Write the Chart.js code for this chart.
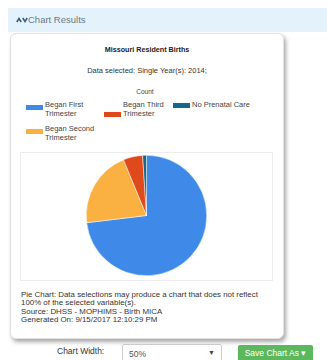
<!DOCTYPE html>
<html>
<head>
<meta charset="utf-8">
<script src="https://cdn.jsdelivr.net/npm/chart.js@4.4.0/dist/chart.umd.min.js"></script>
<style>
  body { margin: 0; width: 327px; height: 360px; background: #fff; font-family: "Liberation Sans", Arial, sans-serif; position: relative; overflow: hidden; }
  .hdr { position: absolute; left: 8px; top: 8px; width: 319px; height: 24px; background: #e4f3fb; }
  .hdr .t { position: absolute; left: 20px; top: 6px; font-size: 9.5px; color: #6a7886; }
  .hdr svg { position: absolute; left: 8px; top: 9px; }
  .card { position: absolute; left: 10px; top: 33px; width: 272px; height: 304px; background: #fff; border: 1px solid #e2e2e2; border-radius: 6px; box-shadow: 2px 3px 4px rgba(0,0,0,0.35); }
  .abs { position: absolute; white-space: nowrap; }
  .title { left: 10px; width: 274px; top: 45px; text-align: center; font-weight: bold; font-size: 7.2px; color: #222; }
  .sub { left: 10px; width: 274px; top: 66px; text-align: center; font-size: 7.5px; color: #333; }
  .count { left: 10px; width: 270px; top: 88px; text-align: center; font-size: 6.5px; color: #444; }
  .lg { font-size: 7.5px; color: #444; line-height: 9px; }
  .sw { position: absolute; height: 5px; width: 17px; }
  .box { position: absolute; left: 20px; top: 152px; width: 251px; height: 127px; border: 1px solid #ececec; }
  #wrap { position: absolute; left: 21px; top: 155px; width: 251px; height: 121px; }
  .foot { left: 21px; top: 291px; font-size: 7.9px; color: #333; line-height: 8.4px; }
  .cw { left: 57px; top: 346px; font-size: 8.5px; color: #333; }
  .sel { position: absolute; left: 122px; top: 344px; width: 98px; height: 18px; border: 1px solid #ccc; border-radius: 2px; background: #fff; }
  .sel span { position: absolute; left: 6px; top: 4px; font-size: 8.5px; color: #555; }
  .sel b { position: absolute; right: 6px; top: 4px; font-size: 7px; color: #444; }
  .btn { position: absolute; left: 238px; top: 345px; width: 75px; height: 18px; background: #5cb85c; border-radius: 2px; color: #fff; font-size: 8.5px; text-align: center; line-height: 16px; }
</style>
</head>
<body>
<div class="hdr">
  <svg width="12" height="6" viewBox="0 0 12 6">
    <polyline points="0.8,5 3,1.5 5.2,5" fill="none" stroke="#3d5d7e" stroke-width="1.6"/>
    <polyline points="6.8,1 9,4.5 11.2,1" fill="none" stroke="#3d5d7e" stroke-width="1.6"/>
  </svg>
  <div class="t">Chart Results</div>
</div>
<div class="card"></div>
<div class="abs title">Missouri Resident Births</div>
<div class="abs sub">Data selected: Single Year(s): 2014;</div>
<div class="abs count">Count</div>
<div id="legend"></div>
<div class="box"></div>
<div id="wrap"><canvas id="pie"></canvas></div>
<div class="abs foot">Pie Chart: Data selections may produce a chart that does not reflect<br>100% of the selected variable(s).<br>Source: DHSS - MOPHIMS - Birth MICA<br>Generated On: 9/15/2017 12:10:29 PM</div>
<div class="abs cw">Chart Width:</div>
<div class="sel"><span>50%</span><b>▼</b></div>
<div class="btn">Save Chart As ▾</div>

<script>
const categories = ['Began First Trimester', 'Began Second Trimester', 'Began Third Trimester', 'No Prenatal Care'];
const counts = [54800, 15500, 3900, 770];
const colors = ['#3f8ae8', '#fbb141', '#df4a1c', '#16678f'];

// legend laid out like the original (two-line labels)
const legendSpots = [
  { x: 26, y: 100, sw: 105, lines: ['Began First', 'Trimester'] },
  { x: 26, y: 124, sw: 129, lines: ['Began Second', 'Trimester'] },
  { x: 104, y: 100, sw: 112, lines: ['Began Third', 'Trimester'] },
  { x: 173, y: 100, sw: 103, lines: ['No Prenatal Care'] }
];
const legend = document.getElementById('legend');
categories.forEach((c, i) => {
  const s = legendSpots[i];
  const sw = document.createElement('div');
  sw.className = 'sw';
  sw.style.left = s.x + 'px';
  sw.style.top = s.sw + 'px';
  sw.style.background = colors[i];
  legend.appendChild(sw);
  const t = document.createElement('div');
  t.className = 'abs lg';
  t.style.left = (s.x + 19) + 'px';
  t.style.top = s.y + 'px';
  t.innerHTML = s.lines.join('<br>');
  legend.appendChild(t);
});

const ctx = document.getElementById('pie');
new Chart(ctx, {
  type: 'pie',
  data: {
    labels: categories,
    datasets: [{
      data: counts,
      backgroundColor: colors,
      borderColor: '#fff',
      borderWidth: 0.5
    }]
  },
  options: {
    responsive: true,
    maintainAspectRatio: false,
    animation: false,
    layout: { padding: 0 },
    plugins: {
      legend: { display: false },
      tooltip: { enabled: false }
    }
  }
});
</script>
</body>
</html>
